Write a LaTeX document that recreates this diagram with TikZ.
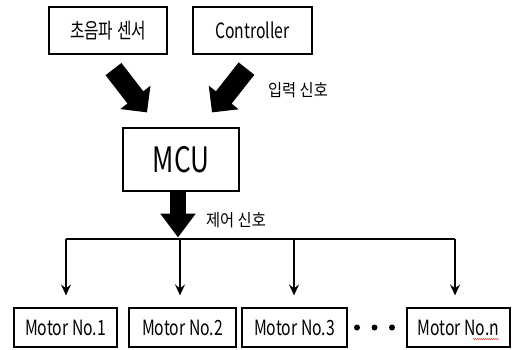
\documentclass[tikz,border=0pt]{standalone}
\usepackage{fontspec}
\setmainfont{Noto Sans CJK KR}[FakeStretch=0.75]
\newfontfamily\sigfont{Noto Sans CJK KR}[FakeStretch=0.9]
\usepackage{tikz}
\usetikzlibrary{positioning,arrows.meta,calc,decorations.pathmorphing}

\begin{document}
\begin{tikzpicture}[x=1pt,y=-1pt,
    box/.style={draw,line width=1.2pt,inner sep=0pt,minimum height=47pt,
                font=\fontsize{21}{24}\selectfont},
    motor/.style={box,minimum height=39pt},
    fat/.style={line width=20pt,-{Triangle[length=19pt,width=37pt]}},
    drop/.style={line width=1.8pt,-{Stealth[length=11pt,width=10pt,inset=4pt]}},
    sig/.style={font=\sigfont\fontsize{17}{20}\selectfont}]
    \useasboundingbox (0,0) rectangle (514,349);
    % inputs
    \node[box,minimum width=118pt] (sensor) at (108,30.5){초음파 센서};
    \node[box,minimum width=119pt] (ctrl) at (252.5,30.5){Controller};
    \node[box,minimum width=116pt,minimum height=63pt,
          font=\fontsize{35}{40}\selectfont] (mcu) at (181,159.5){MCU};
    \coordinate (sensorout) at ($(sensor.south)+(5.5,14.5)$);
    \coordinate (ctrlout) at ($(ctrl.south)+(-6,14)$);
    \coordinate (mcuinL) at ($(mcu.north)+(-34,-15)$);
    \coordinate (mcuinR) at ($(mcu.north)+(31,-15)$);
    \draw[fat] (sensorout) -- (mcuinL);
    \draw[fat] (ctrlout) -- (mcuinR);
    \node[sig] (inlabel) at (298,90){입력 신호};
    % motors
    \node[motor,minimum width=103pt] (m1) at (65.5,327.5){Motor No.1};
    \node[motor,minimum width=107pt] (m2) at (182.5,327.5){Motor No.2};
    \node[motor,minimum width=105pt] (m3) at (294.5,327.5){Motor No.3};
    \node[motor,minimum width=103pt] (mn) at (458.5,327.5){Motor No.n};
    \draw[red!85!black,line width=0.5pt,decorate,
          decoration={snake,amplitude=0.5pt,segment length=2pt}]
          ($(mn.center)+(14.5,11.5)$) -- ($(mn.center)+(40.5,11.5)$);
    \foreach \x in {357,374.5,392}
      \fill (\x,327.5) circle[radius=3pt];
    % bus
    \coordinate (busL) at (66,239);
    \coordinate (busR) at (455,239);
    \coordinate (mcuout) at ($(mcu.south)+(-3,0)$);
    \coordinate (bustop) at ($(mcu.south |- busL)+(-3,-1.5)$);
    \draw[line width=2.4pt] (busL) -- (busR);
    \draw[line width=16pt,-{Triangle[length=24pt,width=34pt]}] (mcuout) -- (bustop);
    \node[sig] (outlabel) at (236,220){제어 신호};
    \draw[drop] (busL) -- ($(m1.north)+(0.5,-12)$);
    \draw[drop] ($(m2.north |- busL)+(-2.5,0)$) -- ($(m2.north)+(-2.5,-12)$);
    \draw[drop] ($(m3.north |- busL)+(-0.5,0)$) -- ($(m3.north)+(-0.5,-12)$);
    \draw[drop] (busR) -- ($(mn.north)+(-3.5,-12)$);
\end{tikzpicture}
\end{document}
